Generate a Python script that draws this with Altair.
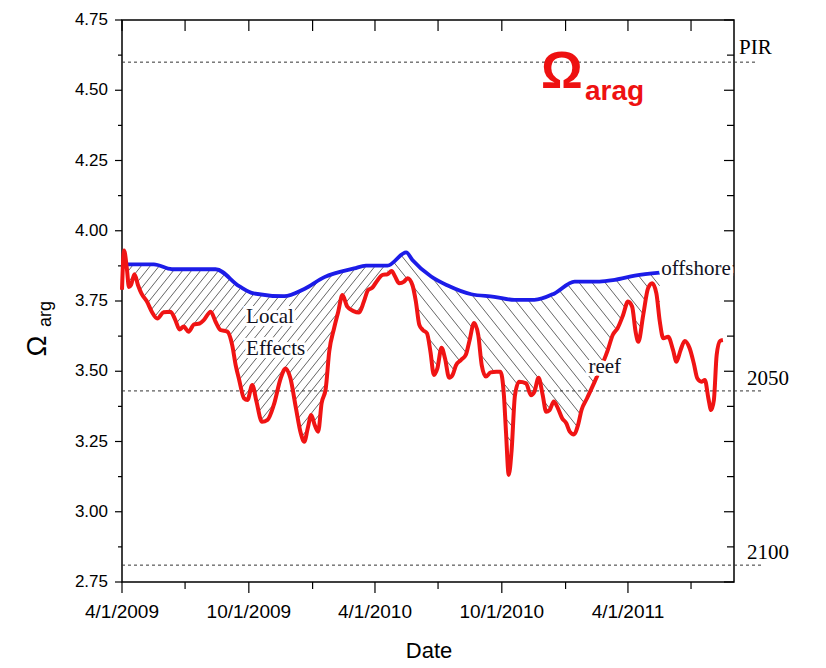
import altair as alt
import pandas as pd
import numpy as np

# ---------------- data ----------------
reef_dates = ["2009-04-01","2009-04-04","2009-04-08","2009-04-11","2009-04-14","2009-04-19","2009-04-24","2009-04-29","2009-05-07","2009-05-14",
              "2009-05-22","2009-05-31","2009-06-10","2009-06-17","2009-06-23","2009-06-29","2009-07-06","2009-07-14","2009-07-22","2009-07-28",
              "2009-08-07","2009-08-14","2009-08-21","2009-08-31","2009-09-07","2009-09-12","2009-09-17","2009-09-24","2009-09-29","2009-10-06",
              "2009-10-12","2009-10-20","2009-10-28","2009-11-06","2009-11-16","2009-11-23","2009-11-30","2009-12-08","2009-12-15","2009-12-20",
              "2009-12-25","2009-12-30","2010-01-04","2010-01-09","2010-01-14","2010-01-20","2010-01-25","2010-02-01","2010-02-07","2010-02-13",
              "2010-02-20","2010-03-01","2010-03-09","2010-03-16","2010-03-22","2010-03-28","2010-04-05","2010-04-12","2010-04-19","2010-04-25",
              "2010-04-30","2010-05-06","2010-05-13","2010-05-18","2010-05-25","2010-05-30","2010-06-04","2010-06-09","2010-06-15","2010-06-20",
              "2010-06-25","2010-06-30","2010-07-06","2010-07-11","2010-07-17","2010-07-22","2010-07-27","2010-08-03","2010-08-10","2010-08-15",
              "2010-08-22","2010-08-28","2010-09-02","2010-09-08","2010-09-15","2010-09-23","2010-09-29","2010-10-04","2010-10-07","2010-10-11",
              "2010-10-15","2010-10-20","2010-10-26","2010-11-05","2010-11-12","2010-11-17","2010-11-23","2010-11-29","2010-12-04","2010-12-09",
              "2010-12-15","2010-12-21","2010-12-27","2011-01-02","2011-01-07","2011-01-13","2011-01-19","2011-01-24","2011-02-01","2011-02-12",
              "2011-03-03","2011-03-10","2011-03-17","2011-03-25","2011-04-01","2011-04-07","2011-04-12","2011-04-16","2011-04-23","2011-04-30",
              "2011-05-06","2011-05-12","2011-05-17","2011-05-22","2011-05-29","2011-06-05","2011-06-10","2011-06-16","2011-06-22","2011-06-29",
              "2011-07-05","2011-07-10","2011-07-16","2011-07-21","2011-07-26","2011-07-30","2011-08-03","2011-08-07","2011-08-12","2011-08-16"]
reef_vals = [3.79,3.93,3.866,3.80,3.807,3.845,3.807,3.777,3.748,3.712,
             3.688,3.710,3.712,3.682,3.649,3.659,3.641,3.667,3.670,3.682,
             3.712,3.676,3.647,3.641,3.593,3.522,3.47,3.404,3.398,3.451,
             3.392,3.320,3.327,3.380,3.475,3.510,3.475,3.368,3.279,3.249,
             3.297,3.344,3.309,3.285,3.386,3.439,3.570,3.653,3.712,3.771,
             3.730,3.714,3.709,3.748,3.789,3.797,3.825,3.843,3.845,3.857,
             3.837,3.813,3.819,3.831,3.807,3.748,3.665,3.647,3.635,3.570,
             3.487,3.510,3.584,3.546,3.477,3.487,3.522,3.540,3.558,3.605,
             3.672,3.629,3.522,3.481,3.496,3.498,3.498,3.415,3.285,3.131,
             3.214,3.415,3.463,3.457,3.415,3.427,3.477,3.415,3.356,3.362,
             3.392,3.368,3.333,3.315,3.285,3.275,3.309,3.362,3.404,3.463,
             3.576,3.629,3.653,3.700,3.748,3.730,3.641,3.605,3.700,3.795,
             3.813,3.777,3.676,3.617,3.623,3.576,3.534,3.576,3.608,3.582,
             3.528,3.475,3.463,3.469,3.404,3.362,3.398,3.558,3.608,3.611]

off_dates = ["2009-04-08","2009-05-17","2009-06-12","2009-08-14","2009-09-17","2009-10-08","2009-11-21","2009-12-20","2010-01-18",
             "2010-03-02","2010-03-19","2010-04-19","2010-05-16","2010-05-25","2010-06-21","2010-07-15","2010-08-18","2010-09-20",
             "2010-10-19","2010-11-17","2010-12-16","2011-01-14","2011-02-19","2011-03-13","2011-04-11","2011-05-17"]
off_vals = [3.880,3.880,3.863,3.863,3.803,3.777,3.767,3.793,3.835,
            3.866,3.876,3.876,3.923,3.896,3.837,3.805,3.774,3.765,
            3.754,3.754,3.777,3.819,3.819,3.825,3.840,3.851]

levels_top = [4.60]
levels_top_labels = ["PIR"]
levels_low = [3.43, 2.81]
levels_low_labels = ["2050", "2100"]

y_major_ticks = [2.75, 3.0, 3.25, 3.5, 3.75, 4.0, 4.25, 4.5, 4.75]
y_major_labels = ["2.75", "3.00", "3.25", "3.50", "3.75", "4.00", "4.25", "4.50", "4.75"]
y_minor_ticks = [2.875, 3.125, 3.375, 3.625, 3.875, 4.125, 4.375, 4.625]
x_major_dates = ["2009-04-01", "2009-10-01", "2010-04-01", "2010-10-01", "2011-04-01"]
x_major_labels = ["4/1/2009", "10/1/2009", "4/1/2010", "10/1/2010", "4/1/2011"]
x_minor_dates = ["2009-07-01", "2010-01-01", "2010-07-01", "2011-01-01", "2011-07-01"]

note_texts = ["Local", "Effects", "reef", "offshore"]
note_dates = ["2009-09-27", "2009-09-27", "2011-02-03", "2011-05-19"]
note_vals = [3.672, 3.558, 3.494, 3.842]

# ---------------- geometry of the plot ----------------
W, H = 612, 562
X0 = pd.Timestamp("2009-04-01")
X1 = pd.Timestamp("2011-09-01")
YMIN, YMAX = 2.75, 4.75
px_per_day = W / ((X1 - X0).total_seconds() / 86400)
px_per_unit = H / (YMAX - YMIN)

xscale = alt.Scale(domain=[alt.DateTime(year=2009, month=4, date=1),
                           alt.DateTime(year=2011, month=9, date=1)])
yscale = alt.Scale(domain=[YMIN, YMAX], nice=False, zero=False)


def to_px(dates):
    d = pd.to_datetime(pd.Series(dates))
    return ((d - X0).dt.total_seconds() / 86400 * px_per_day).to_numpy()


def to_py(vals):
    return (YMAX - np.asarray(vals, dtype=float)) * px_per_unit


# ---------------- hatch between offshore and reef ----------------
rpx, rpy = to_px(reef_dates), to_py(reef_vals)
bpx, bpy = to_px(off_dates), to_py(off_vals)
grid = np.arange(bpx[0], bpx[-1], 0.25)
rr_all = np.interp(grid, rpx, rpy)
bb_all = np.interp(grid, bpx, bpy)
switch_px = to_px(["2010-04-19"])[0]

hatch_rows = []


def add_hatch(direction, spacing, lo, hi, slope=1.25):
    m = (grid >= lo) & (grid <= hi)
    g, bb, rr = grid[m], bb_all[m], rr_all[m]
    sgn = -1 if direction == "/" else 1
    step = slope * spacing
    c_all = np.concatenate([bb - sgn * slope * g, rr - sgn * slope * g])
    cs = np.arange(np.floor(c_all.min() / step) * step, c_all.max() + step, step)
    for c in cs:
        lp = c + sgn * slope * g
        inside = (lp >= bb) & (lp <= rr)
        idx = np.flatnonzero(inside)
        if len(idx) == 0:
            continue
        br = np.where(np.diff(idx) > 1)[0]
        starts = np.r_[idx[0], idx[br + 1]]
        ends = np.r_[idx[br], idx[-1]]
        for s0, e0 in zip(starts, ends):
            if e0 - s0 < 2:
                continue
            d1 = X0 + pd.Timedelta(days=g[s0] / px_per_day)
            d2 = X0 + pd.Timedelta(days=g[e0] / px_per_day)
            hatch_rows.append({
                "d1": d1.strftime("%Y-%m-%dT%H:%M:%S"),
                "d2": d2.strftime("%Y-%m-%dT%H:%M:%S"),
                "v1": YMAX - lp[s0] / px_per_unit,
                "v2": YMAX - lp[e0] / px_per_unit,
            })


add_hatch("/", 9.0, grid[0], switch_px)
add_hatch("\\", 13.0, switch_px, grid[-1])
hatch_df = pd.DataFrame(hatch_rows)

# ---------------- data frames ----------------
reef_df = pd.DataFrame({"date": pd.to_datetime(reef_dates), "value": reef_vals})
off_df = pd.DataFrame({"date": pd.to_datetime(off_dates), "value": off_vals})
note_df = pd.DataFrame({"date": pd.to_datetime(note_dates), "value": note_vals, "text": note_texts})
top_df = pd.DataFrame({"level": levels_top, "label": levels_top_labels})
low_df = pd.DataFrame({"level": levels_low, "label": levels_low_labels})
xall_df = pd.DataFrame({"date": pd.to_datetime(x_major_dates + x_minor_dates)})
xmaj_df = pd.DataFrame({"date": pd.to_datetime(x_major_dates), "label": x_major_labels})
xmin_df = pd.DataFrame({"date": pd.to_datetime(x_minor_dates)})
ymaj_df = pd.DataFrame({"v": y_major_ticks, "label": y_major_labels})
ymin_df = pd.DataFrame({"v": y_minor_ticks})


def X_(f):
    return alt.X(f, scale=xscale, axis=None)


def Y_(f):
    return alt.Y(f, scale=yscale, axis=None)


hatch = alt.Chart(hatch_df).mark_rule(color="#222222", strokeWidth=0.7).encode(
    x=X_("d1:T"), x2="d2:T", y=Y_("v1:Q"), y2="v2:Q")

dotted_top = alt.Chart(top_df).mark_rule(color="#333333", strokeWidth=1, strokeDash=[3, 3]).encode(
    y=Y_("level:Q"), x=alt.value(0), x2=alt.value(635))
dotted_low = alt.Chart(low_df).mark_rule(color="#333333", strokeWidth=1, strokeDash=[3, 3]).encode(
    y=Y_("level:Q"), x=alt.value(0), x2=alt.value(640))
lab_top = alt.Chart(top_df).mark_text(font="Liberation Serif", fontSize=21, align="left",
                                      baseline="alphabetic", dy=-8, color="black").encode(
    y=Y_("level:Q"), x=alt.value(617), text="label:N")
lab_low = alt.Chart(low_df).mark_text(font="Liberation Serif", fontSize=21, align="left",
                                      baseline="alphabetic", dy=-6, color="black").encode(
    y=Y_("level:Q"), x=alt.value(625), text="label:N")

# ---- axes drawn as marks (ticks, labels, titles) ----
tick_style = dict(color="black", strokeWidth=1.2)
top_ticks = alt.Chart(xall_df).mark_rule(**tick_style).encode(
    x=X_("date:T"), y=alt.value(0), y2=alt.value(11))
bottom_major = alt.Chart(xmaj_df).mark_rule(**tick_style).encode(
    x=X_("date:T"), y=alt.value(H), y2=alt.value(H + 11))
bottom_minor = alt.Chart(xmin_df).mark_rule(**tick_style).encode(
    x=X_("date:T"), y=alt.value(H), y2=alt.value(H + 7))
left_major = alt.Chart(ymaj_df).mark_rule(**tick_style).encode(
    y=Y_("v:Q"), x=alt.value(-7), x2=alt.value(0))
left_minor = alt.Chart(ymin_df).mark_rule(**tick_style).encode(
    y=Y_("v:Q"), x=alt.value(-4), x2=alt.value(0))
right_major = alt.Chart(ymaj_df).mark_rule(**tick_style).encode(
    y=Y_("v:Q"), x=alt.value(W - 10), x2=alt.value(W))
right_minor = alt.Chart(ymin_df).mark_rule(**tick_style).encode(
    y=Y_("v:Q"), x=alt.value(W - 7), x2=alt.value(W))

x_labels = alt.Chart(xmaj_df).mark_text(font="Liberation Sans", fontSize=19, color="black",
                                        align="center", baseline="top").encode(
    x=X_("date:T"), y=alt.value(H + 21), text="label:N")
y_labels = alt.Chart(ymaj_df).mark_text(font="Liberation Sans", fontSize=17, color="black",
                                        align="right", baseline="middle").encode(
    y=Y_("v:Q"), x=alt.value(-14), text="label:N")
x_title = alt.Chart(pd.DataFrame({"t": ["Date"]})).mark_text(
    font="Liberation Sans", fontSize=22, color="black", align="center", baseline="middle").encode(
    x=alt.value(307), y=alt.value(631), text="t:N")

blue = alt.Chart(off_df).mark_line(color="#1c1ce8", strokeWidth=3.8, interpolate="monotone").encode(
    x=X_("date:T"), y=Y_("value:Q"))
red = alt.Chart(reef_df).mark_line(color="#f01414", strokeWidth=4, interpolate="monotone").encode(
    x=X_("date:T"), y=Y_("value:Q"))

halo = alt.Chart(note_df).mark_text(font="Liberation Serif", fontSize=21, align="left",
                                    baseline="alphabetic", color="white", stroke="white",
                                    strokeWidth=6).encode(
    x=X_("date:T"), y=Y_("value:Q"), text="text:N")
notes = alt.Chart(note_df).mark_text(font="Liberation Serif", fontSize=21, align="left",
                                     baseline="alphabetic", color="#111122").encode(
    x=X_("date:T"), y=Y_("value:Q"), text="text:N")

title_big = alt.Chart(pd.DataFrame({"t": ["Ω"]})).mark_text(
    font="Liberation Sans", fontSize=52, fontWeight="bold", color="#ee1111",
    align="left", baseline="alphabetic").encode(x=alt.value(419), y=alt.value(68), text="t:N")
title_sub = alt.Chart(pd.DataFrame({"t": ["arag"]})).mark_text(
    font="Liberation Sans", fontSize=28, fontWeight="bold", color="#ee1111",
    align="left", baseline="alphabetic").encode(x=alt.value(463), y=alt.value(80), text="t:N")

ytitle_big = alt.Chart(pd.DataFrame({"t": ["Ω"]})).mark_text(
    font="Liberation Sans", fontSize=28, color="black", angle=270,
    align="center", baseline="alphabetic").encode(x=alt.value(-76), y=alt.value(326), text="t:N")
ytitle_sub = alt.Chart(pd.DataFrame({"t": ["arg"]})).mark_text(
    font="Liberation Sans", fontSize=18, color="black", angle=270,
    align="center", baseline="alphabetic").encode(x=alt.value(-71), y=alt.value(294), text="t:N")

chart = alt.layer(
    hatch, dotted_top, dotted_low, lab_top, lab_low,
    top_ticks, bottom_major, bottom_minor, left_major, left_minor, right_major, right_minor,
    x_labels, y_labels, x_title,
    blue, red, halo, notes, title_big, title_sub, ytitle_big, ytitle_sub
).properties(
    width=W, height=H,
    padding={"left": 16, "top": 3, "right": 5, "bottom": 2},
    background="white",
).configure_view(
    stroke="black", strokeWidth=1.5
)

chart.save("out.html", embed_options={"renderer": "svg", "actions": False})
